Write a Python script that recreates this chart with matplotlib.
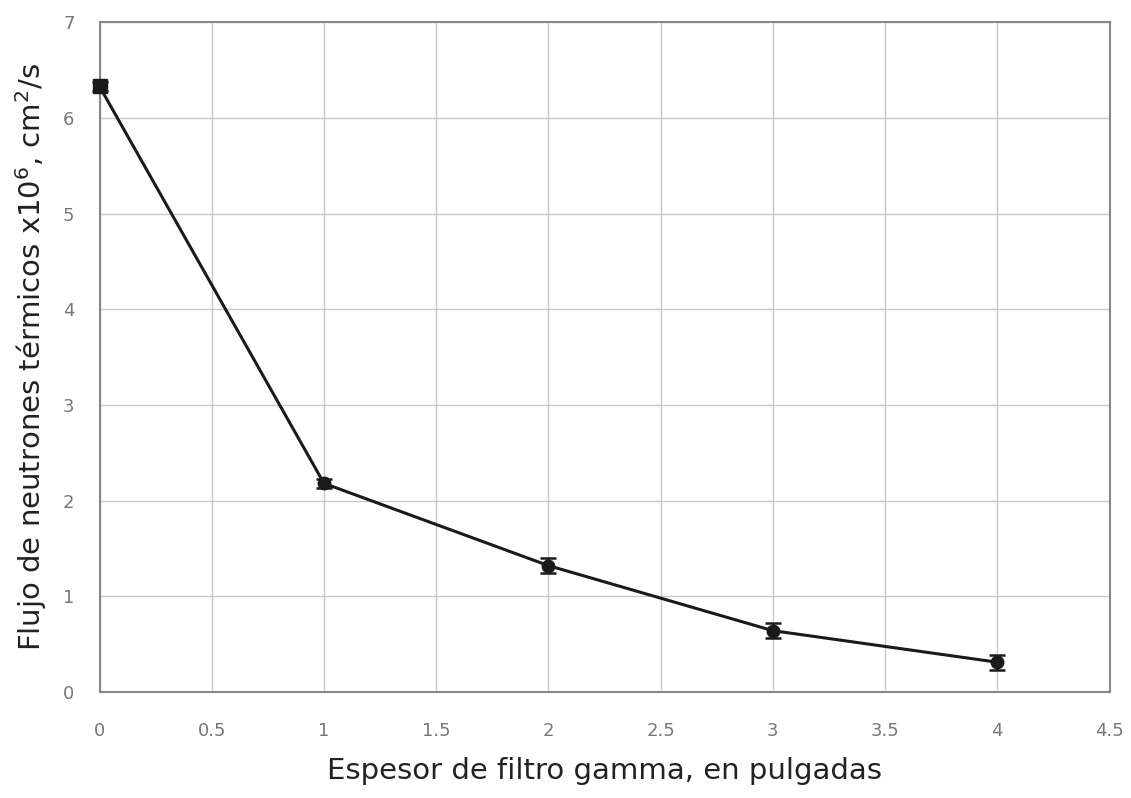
import numpy as np
import matplotlib
matplotlib.use("Agg")
import matplotlib.pyplot as plt

espesor = [0, 1, 2, 3, 4]
flujo = [6.33, 2.18, 1.32, 0.64, 0.31]
error = [0.05, 0.05, 0.08, 0.08, 0.08]
xticks = [0, 0.5, 1, 1.5, 2, 2.5, 3, 3.5, 4, 4.5]
xtick_labels = ["0", "0.5", "1", "1.5", "2", "2.5", "3", "3.5", "4", "4.5"]
yticks = [0, 1, 2, 3, 4, 5, 6, 7]

plt.rcParams["font.family"] = ["DejaVu Sans"]
fig = plt.figure(figsize=(11.31, 7.98), dpi=100)
ax = fig.add_axes([0.088, 0.133, 0.893, 0.839])

ax.errorbar(espesor, flujo, yerr=error, color="#1a1a1a", lw=2.2,
            marker="o", ms=9, mfc="#1a1a1a", mec="#1a1a1a",
            capsize=6, capthick=1.8, elinewidth=1.8, zorder=3, clip_on=False)
ax.plot(espesor[:1], flujo[:1], "s", color="#1a1a1a", ms=10, zorder=4, clip_on=False)

ax.set_xlim(0, 4.5)
ax.set_ylim(0, 7)
ax.set_xticks(xticks)
ax.set_xticklabels(xtick_labels)
ax.set_yticks(yticks)
ax.grid(True, color="#c8c8c8", lw=1.0)
ax.tick_params(colors="#777777", labelsize=13, length=0)
ax.tick_params(axis="x", pad=22)
ax.tick_params(axis="y", pad=18)
for s in ax.spines.values():
    s.set_color("#888888")
    s.set_linewidth(1.5)

ax.set_xlabel("Espesor de filtro gamma, en pulgadas", fontsize=21, color="#222222", labelpad=12)
ax.set_ylabel("Flujo de neutrones térmicos x10$^6$, cm$^2$/s", fontsize=21, color="#222222", labelpad=10)

fig.savefig("out.png", dpi=100)
